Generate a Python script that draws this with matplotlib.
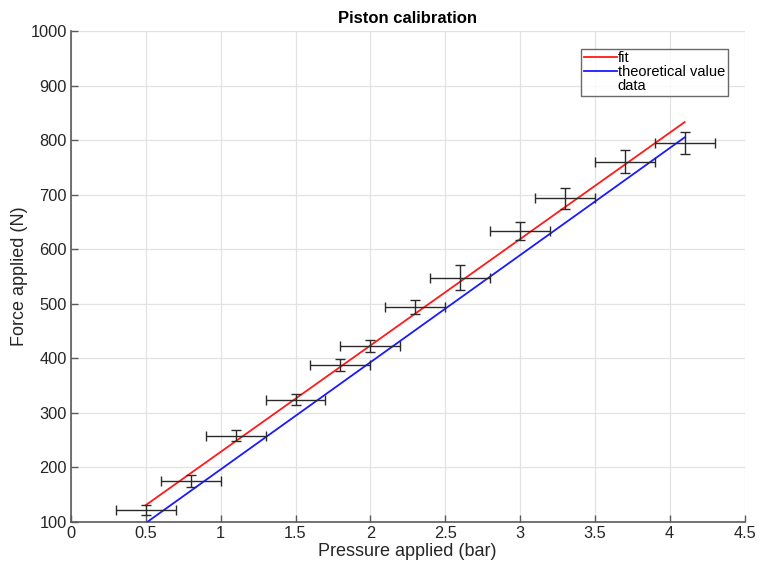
import matplotlib
matplotlib.use("Agg")
import matplotlib.pyplot as plt
from matplotlib.lines import Line2D

plt.rcParams['font.family'] = ['Liberation Sans', 'DejaVu Sans']

# Measured data with uncertainties
pressure = [0.5, 0.8, 1.1, 1.5, 1.8, 2.0, 2.3, 2.6, 3.0, 3.3, 3.7, 4.1]
force = [122, 175, 258, 324, 388, 423, 494, 548, 633, 693, 760, 795]
pressure_err = [0.2] * 12
force_err = [10, 11, 10, 10, 11, 11, 13, 23, 17, 20, 21, 20]

# Linear fit and theoretical line endpoints
fit_x = [0.5, 4.1]
fit_y = [131, 833]
theory_x = [0.5, 4.1]
theory_y = [98.2, 805.0]

xticks = [0, 0.5, 1, 1.5, 2, 2.5, 3, 3.5, 4, 4.5]
xticklabels = ['0', '0.5', '1', '1.5', '2', '2.5', '3', '3.5', '4', '4.5']
yticks = [100, 200, 300, 400, 500, 600, 700, 800, 900, 1000]

fig = plt.figure(figsize=(7.59, 5.63), dpi=100)
ax = fig.add_axes([71 / 759, 1 - 522 / 563, (744.5 - 71) / 759, (522 - 31) / 563])

ax.plot(fit_x, fit_y, color='#ff1a1a', lw=1.3, label='fit', zorder=3)
ax.plot(theory_x, theory_y, color='#1a1aff', lw=1.3, label='theoretical value', zorder=3)
ax.errorbar(pressure, force, xerr=pressure_err, yerr=force_err, fmt='none',
            ecolor='#2a2a2a', elinewidth=1.0, capsize=3.5, capthick=1.0, zorder=4)

ax.set_xlim(0, 4.5)
ax.set_ylim(100, 1000)
ax.set_xticks(xticks)
ax.set_xticklabels(xticklabels)
ax.set_yticks(yticks)
ax.grid(True, color='#e2e2e2', lw=0.9)
ax.set_axisbelow(True)

for side in ['top', 'right']:
    ax.spines[side].set_visible(False)
for side in ['left', 'bottom']:
    ax.spines[side].set_color('#5a5a5a')
    ax.spines[side].set_linewidth(1.2)
ax.tick_params(direction='in', length=5, width=1.0, color='#5a5a5a',
               labelsize=11.8, labelcolor='#262626', pad=3)

ax.set_title('Piston calibration', fontsize=12, fontweight='bold', pad=6)
ax.set_xlabel('Pressure applied (bar)', fontsize=13, color='#262626', labelpad=1)
ax.set_ylabel('Force applied (N)', fontsize=13, color='#262626', labelpad=2)

handles = [Line2D([], [], color='#ff1a1a', lw=1.3),
           Line2D([], [], color='#1a1aff', lw=1.3),
           Line2D([], [], color='none')]
leg = ax.legend(handles, ['fit', 'theoretical value', 'data'],
                loc='upper right', bbox_to_anchor=(728 / 759, 1 - 48.5 / 563),
                bbox_transform=fig.transFigure, fontsize=10.5,
                frameon=True, fancybox=False, borderpad=0.2, labelspacing=0.0,
                handlelength=2.3, handletextpad=0.05, borderaxespad=0)
leg.get_frame().set_edgecolor('#444444')
leg.get_frame().set_linewidth(1.0)

fig.savefig('out.png', dpi=100)
